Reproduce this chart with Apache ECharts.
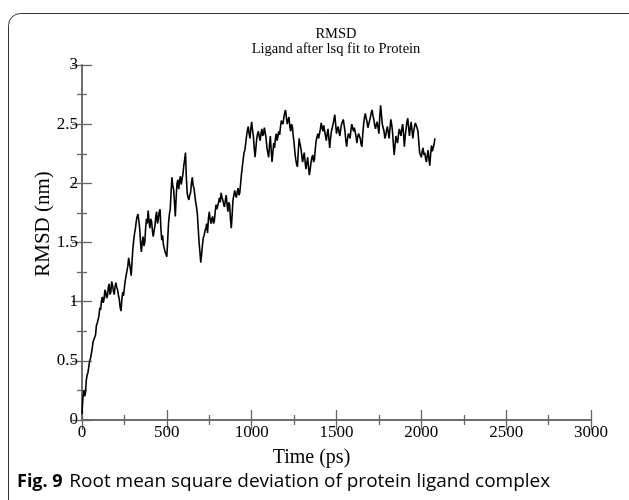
<!DOCTYPE html>
<html><head><meta charset="utf-8">
<script src="https://cdn.jsdelivr.net/npm/echarts@6/dist/echarts.min.js"></script>
<style>html,body{margin:0;padding:0;background:#fff}#c{width:629px;height:500px}</style>
</head><body><div id="c"></div>
<script>
const titleText = "RMSD";
const subtitleText = "Ligand after lsq fit to Protein";
const xName = "Time (ps)";
const yName = "RMSD (nm)";
const captionBold = "Fig. 9";
const captionText = "Root mean square deviation of protein ligand complex";
const xTicks = [0, 500, 1000, 1500, 2000, 2500, 3000];
const yTicks = [0, 0.5, 1, 1.5, 2, 2.5, 3];
// time (ps), sampled every 5 ps from 0 to 2080
const timeStart = 0, timeStep = 5;
const rmsd = [
0.05,0.18,0.25,0.20,0.22,0.33,0.38,0.40,0.45,0.50,
0.52,0.53,0.60,0.66,0.66,0.66,0.72,0.80,0.82,0.82,
0.88,0.95,0.93,1.01,1.04,0.99,1.02,1.10,1.08,1.03,
1.05,1.12,1.15,1.06,1.08,1.17,1.14,1.09,1.06,1.13,
1.16,1.12,1.10,1.05,1.02,0.95,0.92,1.02,1.08,1.05,
1.12,1.18,1.22,1.26,1.30,1.37,1.36,1.28,1.22,1.34,
1.45,1.52,1.58,1.62,1.68,1.72,1.74,1.68,1.62,1.50,
1.42,1.50,1.55,1.47,1.50,1.62,1.70,1.66,1.77,1.68,
1.62,1.70,1.68,1.60,1.55,1.60,1.64,1.72,1.76,1.66,
1.70,1.76,1.78,1.62,1.52,1.56,1.48,1.45,1.42,1.40,
1.38,1.52,1.66,1.74,1.78,1.92,2.05,1.98,1.95,1.84,
1.72,1.88,2.00,2.03,1.95,2.02,2.06,1.99,1.98,2.08,
2.15,2.20,2.26,2.05,1.92,1.88,1.86,1.90,1.92,2.00,
2.05,1.98,1.96,1.90,1.84,1.80,1.74,1.62,1.50,1.42,
1.33,1.40,1.48,1.54,1.56,1.60,1.62,1.66,1.58,1.70,
1.76,1.70,1.66,1.70,1.72,1.66,1.68,1.76,1.82,1.78,
1.78,1.84,1.88,1.84,1.92,1.88,1.86,1.82,1.80,1.86,
1.90,1.82,1.76,1.84,1.82,1.70,1.62,1.74,1.86,1.90,
1.94,1.90,1.88,1.93,1.96,1.90,1.92,2.00,2.08,2.14,
2.20,2.26,2.28,2.34,2.40,2.45,2.48,2.42,2.38,2.46,
2.52,2.45,2.40,2.30,2.22,2.30,2.38,2.42,2.44,2.39,
2.36,2.42,2.46,2.40,2.42,2.47,2.48,2.38,2.30,2.26,
2.22,2.32,2.40,2.28,2.18,2.26,2.34,2.30,2.38,2.42,
2.36,2.40,2.44,2.41,2.48,2.53,2.52,2.50,2.56,2.60,
2.62,2.55,2.50,2.54,2.56,2.48,2.44,2.50,2.48,2.40,
2.34,2.26,2.20,2.16,2.14,2.28,2.38,2.33,2.30,2.24,
2.18,2.22,2.26,2.18,2.12,2.17,2.22,2.14,2.07,2.12,
2.18,2.22,2.24,2.18,2.20,2.29,2.36,2.39,2.42,2.38,
2.38,2.46,2.51,2.47,2.44,2.49,2.48,2.40,2.36,2.42,
2.46,2.38,2.30,2.38,2.44,2.47,2.50,2.54,2.58,2.50,
2.42,2.46,2.48,2.43,2.40,2.46,2.50,2.52,2.54,2.49,
2.44,2.36,2.31,2.38,2.42,2.40,2.38,2.45,2.50,2.47,
2.44,2.47,2.48,2.40,2.34,2.39,2.42,2.40,2.38,2.33,
2.31,2.42,2.50,2.56,2.59,2.55,2.52,2.47,2.48,2.53,
2.56,2.60,2.62,2.57,2.54,2.49,2.46,2.50,2.52,2.47,
2.42,2.56,2.66,2.58,2.50,2.47,2.44,2.38,2.40,2.45,
2.48,2.43,2.38,2.46,2.54,2.50,2.44,2.33,2.24,2.32,
2.40,2.36,2.34,2.41,2.46,2.43,2.40,2.46,2.50,2.42,
2.31,2.40,2.46,2.52,2.55,2.47,2.40,2.47,2.52,2.45,
2.38,2.44,2.48,2.51,2.51,2.47,2.44,2.35,2.26,2.24,
2.22,2.27,2.30,2.24,2.26,2.21,2.18,2.24,2.28,2.20,
2.15,2.25,2.32,2.27,2.28,2.33,2.38
];
const timePs = rmsd.map((_, i) => timeStart + i * timeStep);

const chart = echarts.init(document.getElementById('c'), null, {renderer: 'canvas'});
const serif = '"Liberation Serif", "DejaVu Serif", serif';
const sans = '"Open Sans", "Noto Sans", sans-serif';
const axisLine = {show: true, lineStyle: {color: '#666', width: 1.5}};
const xBase = {
  type: 'value', min: xTicks[0], max: xTicks[xTicks.length-1], interval: xTicks[1] - xTicks[0],
  axisLine: axisLine, splitLine: {show: false},
  axisTick: {show: true, inside: true, length: 10, lineStyle: {color: '#666', width: 1.3}},
  minorTick: {show: true, splitNumber: 2, length: 5, lineStyle: {color: '#666', width: 1.3}}
};
const yBase = {
  type: 'value', min: yTicks[0], max: yTicks[yTicks.length-1], interval: yTicks[1] - yTicks[0],
  axisLine: axisLine, splitLine: {show: false},
  axisTick: {show: true, inside: true, length: 10, lineStyle: {color: '#666', width: 1.3}},
  minorTick: {show: true, splitNumber: 2, length: 5, lineStyle: {color: '#666', width: 1.3}}
};
chart.setOption({
  animation: false,
  backgroundColor: '#fff',
  grid: {left: 82, right: 38, top: 65, bottom: 80, containLabel: false, outerBoundsMode: 'none'},
  xAxis: [
    Object.assign({}, xBase, {position: 'bottom',
      name: xName, nameLocation: 'middle', nameGap: 28,
      nameTextStyle: {fontFamily: serif, fontSize: 20, color: '#000', padding: [0, 50, 0, 0]},
      axisLabel: {show: true, margin: 4, fontFamily: serif, fontSize: 17, color: '#000',
        formatter: v => String(v)}}),
    Object.assign({}, xBase, {position: 'top', axisLabel: {show: false}})
  ],
  yAxis: [
    Object.assign({}, yBase, {position: 'left',
      axisLabel: {show: true, margin: 4, fontFamily: serif, fontSize: 17, color: '#000',
        formatter: v => String(v)}}),
    Object.assign({}, yBase, {position: 'right', axisLabel: {show: false}})
  ],
  series: [{
    type: 'line', xAxisIndex: 0, yAxisIndex: 0,
    data: timePs.map((t, i) => [t, rmsd[i]]),
    showSymbol: false, symbol: 'none',
    lineStyle: {color: '#000', width: 1.6}
  }],
  graphic: [
    {type: 'rect', shape: {x: 8.5, y: 13.5, width: 640, height: 520, r: 12},
     style: {fill: 'none', stroke: '#333', lineWidth: 1}, silent: true, z: -1},
    {type: 'text', x: 336, y: 27, style: {text: titleText, font: '14.5px ' + serif, fill: '#000', textAlign: 'center'}},
    {type: 'text', x: 336, y: 42, style: {text: subtitleText, font: '14.5px ' + serif, fill: '#000', textAlign: 'center'}},
    {type: 'text', x: 43, y: 224, rotation: Math.PI / 2,
     style: {text: yName, font: '21px ' + serif, fill: '#000', textAlign: 'center', textVerticalAlign: 'middle'}},
    {type: 'text', x: 17, y: 472, style: {
      text: '{b|' + captionBold + '}  {r|' + captionText + '}',
      rich: {
        b: {fontFamily: sans, fontWeight: 'bold', fontSize: 18, fill: '#000'},
        r: {fontFamily: sans, fontSize: 19, fill: '#000'}
      }}}
  ]
});
</script></body></html>
